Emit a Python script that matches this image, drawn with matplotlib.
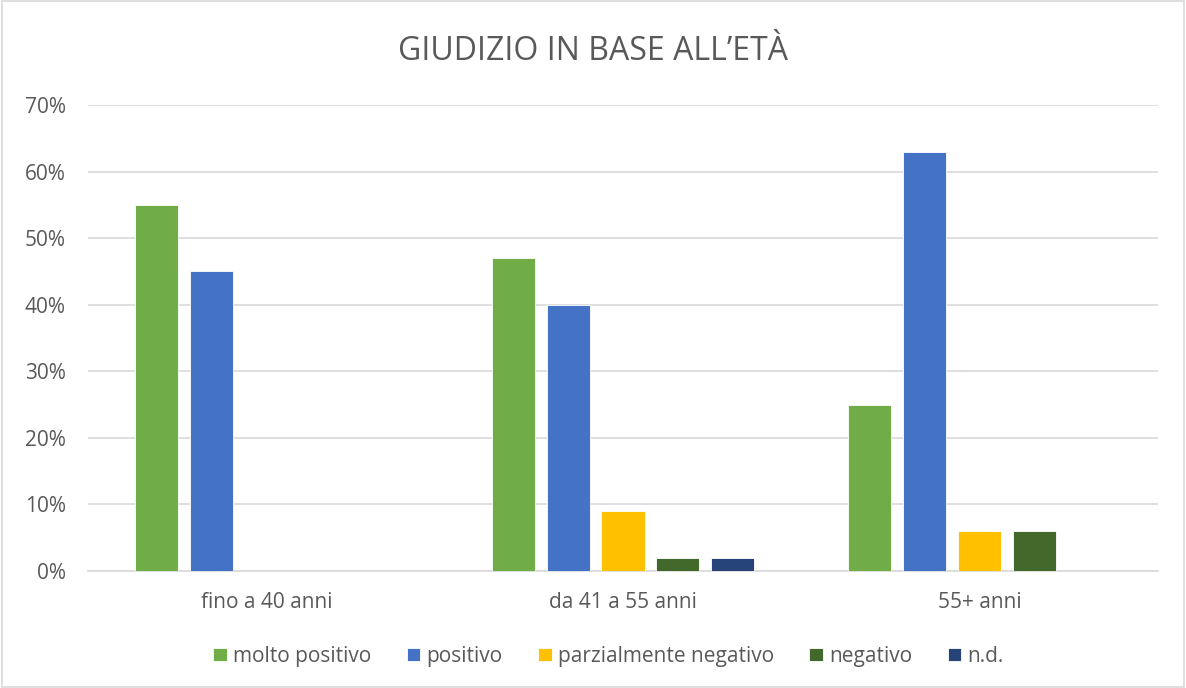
import numpy as np
import matplotlib.pyplot as plt
from matplotlib.ticker import PercentFormatter

plt.rcParams['font.family'] = ['Open Sans', 'DejaVu Sans']

categories = ['fino a 40 anni', 'da 41 a 55 anni', '55+ anni']
series = ['molto positivo', 'positivo', 'parzialmente negativo', 'negativo', 'n.d.']
values = {
    'molto positivo': [55, 47, 25],
    'positivo': [45, 40, 63],
    'parzialmente negativo': [0, 9, 6],
    'negativo': [0, 2, 6],
    'n.d.': [0, 2, 0],
}
colors = ['#70AD47', '#4472C4', '#FFC000', '#43682B', '#264478']

fig = plt.figure(figsize=(11.86, 6.88), dpi=100)
ax = fig.add_axes([0.0742, 0.170, 0.9022, 0.6774])

x = np.arange(len(categories))
step = 0.154
width = 0.1206
for i, (name, col) in enumerate(zip(series, colors)):
    ax.bar(x + (i - 2) * step, values[name], width, color=col, label=name,
           edgecolor='white', linewidth=0.6, zorder=3)

ax.set_xlim(-0.5, 2.5)
ax.set_ylim(0, 70)
ax.set_yticks(range(0, 71, 10))
ax.yaxis.set_major_formatter(PercentFormatter(decimals=0))
ax.set_xticks(x)
ax.set_xticklabels(categories)
ax.grid(axis='y', color='#D9D9D9', linewidth=1.2, zorder=0)
for s in ['top', 'right', 'left']:
    ax.spines[s].set_visible(False)
ax.spines['bottom'].set_color('#D9D9D9')
ax.spines['bottom'].set_linewidth(1.2)
ax.tick_params(axis='both', length=0, labelsize=15, labelcolor='#595959')
ax.tick_params(axis='x', pad=15)
ax.tick_params(axis='y', pad=16)

fig.text(0.5, 0.925, 'GIUDIZIO IN BASE ALL\u2019ETÀ', ha='center', va='center',
         fontsize=23, color='#595959')

leg = fig.legend(loc='center', bbox_to_anchor=(0.513, 0.046), ncol=5, frameon=False,
                 fontsize=15, handlelength=0.65, handleheight=0.65,
                 handletextpad=0.3, columnspacing=1.7)
for t in leg.get_texts():
    t.set_color('#595959')

fig.patches.append(plt.Rectangle((0.002, 0.002), 0.996, 0.996, transform=fig.transFigure,
                                 fill=False, edgecolor='#D9D9D9', linewidth=1.2))

fig.savefig('out.png', dpi=100)
